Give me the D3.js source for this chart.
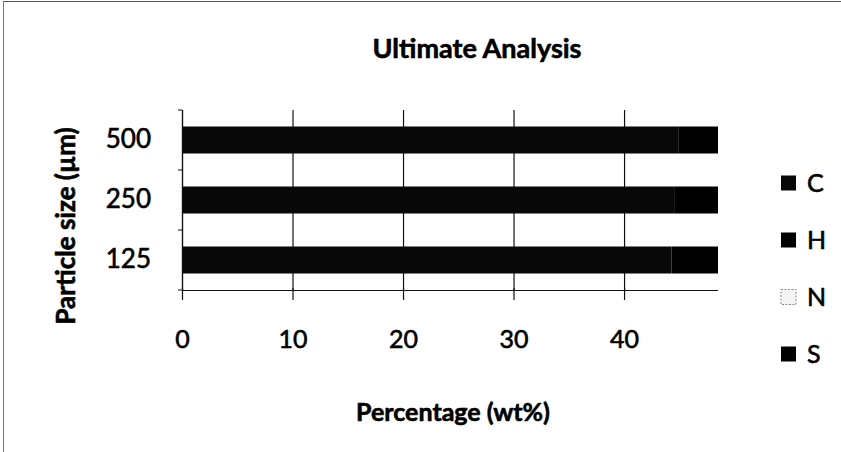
<!DOCTYPE html>
<html>
<head>
<meta charset="utf-8">
<script src="https://cdn.jsdelivr.net/npm/d3@7"></script>
<style>
  html, body { margin: 0; padding: 0; background: #fff; }
  svg { display: block; font-family: Lato, "Open Sans", sans-serif; }
  .lbl { stroke: #000; stroke-width: 0.6px; fill: #000; }
</style>
</head>
<body>
<svg id="chart" width="841" height="452"></svg>
<script>
// Ultimate analysis by particle size (wt%)
const sizes = ["125", "250", "500"];
const elements = ["C", "H", "N", "S"];
const carbon = [44.3, 44.6, 44.9];
const hydrogen = [5.6, 5.7, 5.8];
const nitrogen = [0.4, 0.4, 0.3];
const sulfur = [0.1, 0.1, 0.1];
const xTicks = [0, 10, 20, 30, 40];
const xMax = 48.5;

const colors = { C: "#080808", H: "#000000", N: "#f4f4f4", S: "#030303" };

const rows = sizes.map((s, i) => ({
  size: s, C: carbon[i], H: hydrogen[i], N: nitrogen[i], S: sulfur[i]
}));

const svg = d3.select("#chart");
const margin = { left: 182, right: 123, top: 110, bottom: 162 };
const W = 841, H = 452;

// outer chart-area frame (top and left edges)
svg.append("line").attr("x1", 3).attr("x2", W).attr("y1", 1.5).attr("y2", 1.5)
  .attr("stroke", "#555").attr("stroke-width", 1);
svg.append("line").attr("x1", 3.5).attr("x2", 3.5).attr("y1", 1).attr("y2", H)
  .attr("stroke", "#777").attr("stroke-width", 1);

const x = d3.scaleLinear().domain([0, xMax]).range([margin.left, W - margin.right]);
const y = d3.scaleBand().domain(sizes.slice().reverse())
  .range([margin.top, H - margin.bottom]).paddingInner(0.55).paddingOuter(0.275);

// vertical gridlines
svg.append("g").selectAll("line").data(xTicks).join("line")
  .attr("x1", d => x(d) + 0.5).attr("x2", d => x(d) + 0.5)
  .attr("y1", margin.top).attr("y2", H - margin.bottom)
  .attr("stroke", "#111").attr("stroke-width", 1.2);

// stacked bars, clipped to the plot area
const stack = d3.stack().keys(elements)(rows);
svg.append("defs").append("clipPath").attr("id", "plot")
  .append("rect").attr("x", margin.left).attr("y", margin.top)
  .attr("width", x(xMax) - margin.left).attr("height", H - margin.bottom - margin.top);

svg.append("g").attr("clip-path", "url(#plot)")
  .selectAll("g").data(stack).join("g")
  .attr("fill", d => colors[d.key])
  .selectAll("rect").data(d => d).join("rect")
  .attr("x", d => x(d[0]))
  .attr("width", d => x(d[1]) - x(d[0]))
  .attr("y", d => y(d.data.size))
  .attr("height", y.bandwidth());

// x axis
const xAxis = d3.axisBottom(x).tickValues(xTicks).tickSize(10).tickPadding(30);
const gx = svg.append("g").attr("transform", `translate(0,${H - margin.bottom})`).call(xAxis);
gx.select(".domain").attr("stroke", "#111").attr("stroke-width", 1.2)
  .attr("d", `M${margin.left},0.5H${x(xMax)}`);
gx.selectAll(".tick line").attr("stroke", "#111").attr("stroke-width", 1.2).attr("y1", -2);
gx.selectAll("text").attr("font-size", 25).attr("class", "lbl").attr("font-family", "Lato, sans-serif");

// y axis
const yAxis = d3.axisLeft(y).tickSize(0).tickPadding(31);
const gy = svg.append("g").attr("transform", `translate(${margin.left},0)`).call(yAxis);
gy.select(".domain").attr("stroke", "#111").attr("stroke-width", 1.2)
  .attr("d", `M0.5,${margin.top}V${H - margin.bottom}`);
gy.selectAll("text").attr("font-size", 26).attr("class", "lbl").attr("font-family", "Lato, sans-serif");
// small category separators on the y axis
const bounds = d3.range(sizes.length + 1).map(i => margin.top + i * y.step());
svg.append("g").selectAll("line").data(bounds).join("line")
  .attr("x1", margin.left - 4).attr("x2", margin.left)
  .attr("y1", d => d).attr("y2", d => d).attr("stroke", "#111");

// titles
svg.append("text").attr("x", 477).attr("y", 58).attr("text-anchor", "middle")
  .attr("font-size", 27).attr("font-weight", "bold").attr("class", "lbl").text("Ultimate Analysis");
svg.append("text").attr("x", 453).attr("y", 421).attr("text-anchor", "middle")
  .attr("font-size", 25).attr("font-weight", "bold").attr("class", "lbl").text("Percentage (wt%)");
svg.append("text").attr("transform", "translate(75,226) rotate(-90)")
  .attr("text-anchor", "middle")
  .attr("font-size", 26).attr("font-weight", "bold").attr("class", "lbl").text("Particle size (µm)");

// legend
const legend = svg.append("g").selectAll("g").data(elements).join("g")
  .attr("transform", (d, i) => `translate(781,${183 + i * 57})`);
legend.append("rect").attr("x", 0).attr("y", -7.5).attr("width", 15).attr("height", 15)
  .attr("fill", d => colors[d])
  .attr("stroke", d => d === "N" ? "#888" : "none")
  .attr("stroke-dasharray", d => d === "N" ? "2,1.5" : null);
legend.append("text").attr("x", 26).attr("y", 9).attr("font-size", 25).attr("class", "lbl").text(d => d);
</script>
</body>
</html>
